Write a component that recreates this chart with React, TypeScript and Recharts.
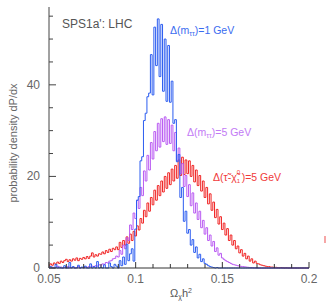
import React from "react";
import { LineChart, Line, XAxis, YAxis } from "recharts";

// bins of 0.001 in Omega h^2, starting at 0.05
const binStart = 0.05;
const binWidth = 0.001;

// Δ(τ̃−χ̃⁰₁)=5 GeV
const redDensity = [
  0.5, 0.9, 0.6, 1.1, 0.8, 1.3, 1.0, 1.5, 1.2, 1.6,
  1.9, 1.4, 1.8, 1.5, 2.0, 1.7, 2.2, 1.6, 2.1, 1.9,
  2.3, 2.0, 2.5, 2.1, 2.6, 3.3, 2.4, 2.9, 2.6, 3.1,
  3.0, 3.5, 3.1, 3.8, 3.4, 4.1, 3.6, 4.3, 4.0, 4.6,
  4.0, 5.6, 4.5, 6.0, 5.0, 6.8, 5.4, 7.4, 6.0, 8.0,
  7.0, 9.2, 8.3, 10.8, 9.8, 12.6, 11.2, 14.2, 12.4, 15.4,
  13.8, 17.0, 14.8, 18.0, 15.8, 19.0, 16.6, 20.0, 17.4, 20.8,
  18.2, 21.6, 19.0, 22.4, 19.6, 23.6, 20.2, 24.2, 20.4, 23.6,
  20.6, 23.4, 20.0, 22.4, 18.8, 21.4, 18.0, 20.2, 16.8, 19.0,
  15.4, 17.6, 14.0, 16.2, 12.6, 14.4, 11.0, 12.8, 9.6, 11.2,
  8.4, 9.8, 7.2, 8.6, 6.0, 7.2, 5.0, 6.0, 4.2, 4.8,
  3.3, 4.0, 2.6, 3.2, 2.0, 2.6, 1.5, 2.0, 1.1, 1.5,
  1.0, 0.9, 0.7, 0.6, 0.5, 0.4, 0.3, 0.3, 0.2, 0.2,
  0.1, 0.15, 0.1, 0.05, 0.1, 0.05, 0, 0.05, 0, 0,
  0, 0, 0, 0, 0, 0, 0, 0, 0, 0, 0,
];

// Δ(mττ)=5 GeV
const purpleDensity = [
  0.3, 0, 0.2, 0, 0.1, 0.4, 0, 0.2, 0, 0.1,
  0, 0.3, 0, 0.1, 0.2, 0, 0.1, 0.3, 0, 0.1,
  0.1, 0.2, 0.1, 0.3, 0.2, 0.4, 0.3, 0.5, 0.4, 0.7,
  0.6, 0.9, 0.8, 1.2, 1.1, 1.5, 1.6, 2.0, 2.1, 2.6,
  2.4, 3.8, 3.0, 5.0, 4.2, 6.6, 6.0, 9.4, 8.4, 12.0,
  10.8, 14.8, 13.0, 17.6, 15.8, 21.2, 19.0, 24.6, 21.4, 27.4,
  23.8, 29.8, 25.6, 31.6, 26.4, 32.6, 27.6, 33.0, 27.0, 32.4,
  27.2, 31.2, 25.6, 29.6, 23.4, 26.2, 20.6, 22.8, 17.8, 20.2,
  15.6, 18.2, 13.6, 16.4, 12.0, 14.2, 10.6, 12.4, 8.8, 10.4,
  7.4, 8.8, 6.0, 7.2, 4.8, 5.8, 3.6, 4.4, 2.8, 3.2,
  2.2, 1.9, 1.6, 1.4, 1.2, 1.0, 0.8, 0.7, 0.6, 0.5,
  0.4, 0.35, 0.3, 0.25, 0.2, 0.15, 0.1, 0.1, 0.05, 0.05,
  0, 0, 0, 0, 0, 0, 0, 0, 0, 0,
  0, 0, 0, 0, 0, 0, 0, 0, 0, 0,
  0, 0, 0, 0, 0, 0, 0, 0, 0, 0, 0,
];

// Δ(mττ)=1 GeV
const blueDensity = [
  0, 0.3, 0, 0, 0.8, 0, 0.2, 0, 0, 0.5,
  0, 0, 1.2, 0, 0.3, 0, 0, 0.6, 0, 0.2,
  0, 0.4, 0, 0, 0.9, 0, 0.3, 0, 1.4, 0,
  0.2, 0, 0.7, 0, 0, 1.1, 0.3, 0, 0.8, 0.4,
  0, 1.6, 0.5, 2.4, 0.8, 5.2, 1.6, 3.1, 4.2, 1.5,
  8.5, 14.8, 15.6, 23.4, 24.3, 32.2, 33.8, 37.4, 38.2, 46.6,
  37.8, 52.6, 44.2, 54.4, 41.8, 53.2, 38.6, 50.0, 36.4, 48.6,
  36.2, 40.8, 31.6, 32.4, 23.2, 24.8, 15.4, 17.6, 10.2, 12.4,
  7.6, 8.4, 5.0, 6.2, 3.4, 4.6, 2.2, 3.0, 1.4, 2.0,
  1.0, 0.8, 0.5, 0.3, 0.2, 0.1, 0, 0.1, 0, 0,
  0, 0, 0, 0, 0, 0, 0, 0, 0, 0,
  0, 0, 0, 0, 0, 0, 0, 0, 0, 0,
  0, 0, 0, 0, 0, 0, 0, 0, 0, 0,
  0, 0, 0, 0, 0, 0, 0, 0, 0, 0,
  0, 0, 0, 0, 0, 0, 0, 0, 0, 0, 0,
];

const xTicks = [0.05, 0.06, 0.07, 0.08, 0.09, 0.1, 0.11, 0.12, 0.13, 0.14, 0.15, 0.16, 0.17, 0.18, 0.19, 0.2];
const xMajor = [0.05, 0.1, 0.15, 0.2];
const yTicks = [0, 5, 10, 15, 20, 25, 30, 35, 40, 45, 50, 55];
const yMajor = [0, 20, 40];

const data = redDensity.map((red, i) => ({
  x: +(binStart + i * binWidth).toFixed(3),
  red,
  purple: purpleDensity[i],
  blue: blueDensity[i],
}));

const isIn = (list: number[], v: number) => list.some((m) => Math.abs(m - v) < 1e-9);
const labelColor = "#666";

function BottomTick({ x, y, payload }: any) {
  const major = isIn(xMajor, payload.value);
  return (
    <g>
      <line x1={x} x2={x} y1={y} y2={y - (major ? 6 : 4)} stroke="#333" />
      {major && (
        <text x={x} y={y + 15} textAnchor="middle" fontSize={12} fill={labelColor}>
          {String(payload.value)}
        </text>
      )}
    </g>
  );
}

function TopTick({ x, y, payload }: any) {
  const major = isIn(xMajor, payload.value);
  return <line x1={x} x2={x} y1={y} y2={y + (major ? 6 : 4)} stroke="#888" />;
}

function LeftTick({ x, y, payload }: any) {
  const major = isIn(yMajor, payload.value);
  return (
    <g>
      <line x1={x} x2={x + (major ? 7 : 4)} y1={y} y2={y} stroke="#444" />
      {major && (
        <text x={x - 9} y={y + 4} textAnchor="end" fontSize={12} fill={labelColor}>
          {payload.value}
        </text>
      )}
    </g>
  );
}

function RightTick({ x, y, payload }: any) {
  const major = isIn(yMajor, payload.value);
  return <line x1={x} x2={x - (major ? 7 : 4)} y1={y} y2={y} stroke="#444" />;
}

const abs = (left: number, top: number, extra: React.CSSProperties = {}): React.CSSProperties => ({
  position: "absolute",
  left,
  top,
  lineHeight: 1,
  whiteSpace: "nowrap",
  ...extra,
});

const subStyle: React.CSSProperties = { fontSize: 7, verticalAlign: -2, lineHeight: 0 };
const supStyle: React.CSSProperties = { fontSize: 7, verticalAlign: 4, lineHeight: 0 };

export default function App() {
  return (
    <div
      style={{
        position: "absolute",
        left: 0,
        top: 0,
        width: 327,
        height: 308,
        background: "#fff",
        fontFamily: "'Liberation Sans', Arial, sans-serif",
      }}
    >
      <LineChart width={327} height={308} data={data} margin={{ top: 7, right: 18, bottom: 0, left: 0 }}>
        <XAxis
          dataKey="x"
          type="number"
          domain={[0.05, 0.2]}
          ticks={xTicks}
          interval={0}
          height={40}
          tickSize={0}
          tickMargin={0}
          tickLine={false}
          axisLine={{ stroke: "#333" }}
          tick={<BottomTick />}
        />
        <XAxis
          xAxisId="top"
          orientation="top"
          dataKey="x"
          type="number"
          domain={[0.05, 0.2]}
          ticks={xTicks}
          interval={0}
          height={0}
          tickSize={0}
          tickMargin={0}
          tickLine={false}
          axisLine={{ stroke: "#aaa" }}
          tick={<TopTick />}
        />
        <YAxis
          type="number"
          domain={[0, 57]}
          ticks={yTicks}
          interval={0}
          width={49}
          tickSize={0}
          tickMargin={0}
          tickLine={false}
          axisLine={{ stroke: "#444" }}
          tick={<LeftTick />}
        />
        <YAxis
          yAxisId="right"
          orientation="right"
          type="number"
          domain={[0, 57]}
          ticks={yTicks}
          interval={0}
          width={0}
          tickSize={0}
          tickMargin={0}
          tickLine={false}
          axisLine={{ stroke: "#333" }}
          tick={<RightTick />}
        />
        <Line type="step" dataKey="red" stroke="#f02424" strokeWidth={1} dot={false} isAnimationActive={false} />
        <Line type="step" dataKey="purple" stroke="#b95af2" strokeWidth={1} dot={false} isAnimationActive={false} />
        <Line type="step" dataKey="blue" stroke="#2b5cf0" strokeWidth={1} dot={false} isAnimationActive={false} />
      </LineChart>

      <div style={abs(62, 18, { fontSize: 12, color: "#555" })}>SPS1a': LHC</div>
      <div style={abs(170, 25, { fontSize: 10.5, color: "#3a6cf0" })}>
        Δ(m<span style={subStyle}>ττ</span>)=1 GeV
      </div>
      <div style={abs(187, 127, { fontSize: 10.5, color: "#c27af5" })}>
        Δ(m<span style={subStyle}>ττ</span>)=5 GeV
      </div>
      <div style={abs(213, 172, { fontSize: 10.5, color: "#f03a3a" })}>
        Δ(τ̃-χ̃
        <span style={{ display: "inline-block", position: "relative", width: 5, height: 8 }}>
          <span style={{ position: "absolute", left: 0, top: -4, fontSize: 6 }}>0</span>
          <span style={{ position: "absolute", left: 0, top: 5, fontSize: 6 }}>1</span>
        </span>
        )=5 GeV
      </div>
      <div style={abs(170, 288, { fontSize: 11, color: "#555" })}>
        Ω<span style={subStyle}>χ</span>h<span style={supStyle}>2</span>
      </div>
      <div
        style={abs(12.5, 143, {
          fontSize: 11,
          color: "#666",
          transform: "translate(-50%, -50%) rotate(-90deg)",
        })}
      >
        probability density dP/dx
      </div>
      <div style={{ position: "absolute", left: 324, top: 236, width: 2, height: 7, background: "#f6a6a6" }} />
    </div>
  );
}
